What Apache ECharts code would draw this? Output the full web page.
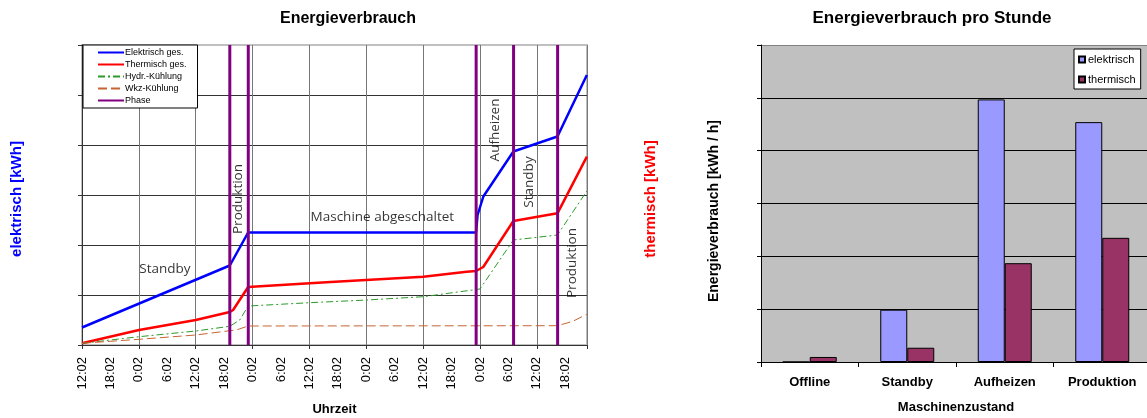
<!DOCTYPE html>
<html>
<head>
<meta charset="utf-8">
<script src="https://cdn.jsdelivr.net/npm/echarts@6/dist/echarts.min.js"></script>
<style>
  html, body { margin: 0; padding: 0; background: #fff; }
  #chart { width: 1147px; height: 418px; }
</style>
</head>
<body>
<div id="chart"></div>
<script>
// Zeitachse: Stunden seit Messbeginn (12:02 Uhr)
const startStunde = 12;
const startMinute = 2;
const zeitEnde = 106.6;

// Kumulierter Verbrauch elektrisch [kWh]
const elekZeit = [0, 31.2, 35.07, 83.18, 83.5, 84.72, 91.06, 100.36, 106.57];
const elekWert = [35, 159, 225, 225, 260, 297, 387, 417, 540];

// Kumulierter Verbrauch thermisch [kWh]
const thermZeit = [0, 12.04, 24.02, 31.2, 31.9, 35.07, 51.6, 72.05, 81.2, 83.2, 84.7, 91.06, 100.36, 106.57];
const thermWert = [17, 150, 250, 330, 350, 580, 627, 683, 733, 740, 780, 1240, 1317, 1883];

const hydrZeit = [0, 12.04, 24.02, 31.2, 33.3, 35.07, 48.1, 60.1, 72.05, 84.0, 91.06, 100.36, 106.57];
const hydrWert = [17, 83, 140, 187, 250, 390, 423, 450, 483, 560, 1050, 1100, 1540];

const wkzZeit = [0, 12.04, 24.02, 31.2, 32.6, 35.07, 100.36, 103.5, 106.57];
const wkzWert = [17, 57, 100, 143, 150, 190, 193, 235, 307];

// Zeitpunkte der Phasenwechsel
const phasenWechsel = [31.2, 35.1, 83.2, 91.1, 100.4];

// Beschriftung der Phasen (Zeit, Höhe auf der elektrischen Achse, Drehung)
const phasenText = ['Standby', 'Produktion', 'Maschine abgeschaltet', 'Aufheizen', 'Standby', 'Produktion'];
const phasenTextZeit = [17.5, 32.9, 63.4, 87.2, 94.4, 103.5];
const phasenTextWert = [152, 292, 256, 430, 326, 164];
const phasenTextDrehung = [0, 90, 0, 90, 90, 90];

// Energieverbrauch pro Stunde je Maschinenzustand [kWh / h]
const zustaende = ['Offline', 'Standby', 'Aufheizen', 'Produktion'];
const proStundeElek = [0, 9.9, 49.7, 45.4];
const proStundeTherm = [0.95, 2.7, 18.7, 23.5];

const pairs = (xs, ys) => xs.map((x, i) => [x, ys[i]]);
const phasenDaten = [];
phasenWechsel.forEach(t => { phasenDaten.push([t, 0], [t, 3000], [t, null]); });

const uhrzeit = v => {
  if (Math.abs(v / 6 - Math.round(v / 6)) > 1e-6) return '';
  const h = (startStunde + Math.round(v)) % 24;
  return h + ':' + String(startMinute).padStart(2, '0');
};

const FONT = 'Liberation Sans, Arial, sans-serif';
const chart = echarts.init(document.getElementById('chart'));

chart.setOption({
  backgroundColor: '#fff',
  animation: false,
  textStyle: { fontFamily: FONT },
  graphic: [
    { type: 'text', x: 348, y: 19, style: { text: 'Energieverbrauch', font: 'bold 16px ' + FONT, fill: '#000', align: 'center', verticalAlign: 'middle' } },
    { type: 'text', x: 932, y: 18, style: { text: 'Energieverbrauch pro Stunde', font: 'bold 17px ' + FONT, fill: '#000', align: 'center', verticalAlign: 'middle' } }
  ],
  legend: [
    {
      data: ['Elektrisch ges.', 'Thermisch ges.', 'Hydr.-Kühlung', 'Wkz-Kühlung', 'Phase'],
      orient: 'vertical', left: 83, top: 45,
      itemWidth: 26, itemHeight: 9, itemGap: 3,
      padding: [3, 11, 3, 14],
      itemStyle: { opacity: 0 },
      backgroundColor: '#fff', borderColor: '#000', borderWidth: 1, borderRadius: 0,
      textStyle: { fontSize: 9, color: '#000', fontFamily: FONT, padding: [0, 0, 0, -4] }
    },
    {
      data: ['elektrisch', 'thermisch'],
      orient: 'vertical', left: 1074, top: 49,
      icon: 'rect', itemWidth: 6, itemHeight: 6, itemGap: 9,
      padding: [5, 5, 4, 4],
      backgroundColor: '#fff', borderColor: '#000', borderWidth: 1, borderRadius: 0,
      textStyle: { fontSize: 11, color: '#000', fontFamily: FONT, padding: [0, 0, 0, -2] }
    }
  ],
  grid: [
    { left: 82, top: 45, width: 505, height: 300, outerBoundsMode: 'none', show: true, borderColor: '#c0c0c0', borderWidth: 2, backgroundColor: '#fff' },
    { left: 761, top: 45, width: 390, height: 317, outerBoundsMode: 'none', show: true, borderWidth: 0, backgroundColor: '#c0c0c0' }
  ],
  xAxis: [
    {
      type: 'value', gridIndex: 0, min: 0, max: zeitEnde, interval: 12,
      axisLine: { show: true, lineStyle: { color: '#333', width: 1 } },
      axisTick: { show: true, length: 4, lineStyle: { color: '#333' } },
      axisLabel: { show: false },
      splitLine: { show: true, lineStyle: { color: '#777', width: 1 } }
    },
    {
      type: 'value', gridIndex: 0, min: 0, max: zeitEnde, interval: 6, position: 'bottom',
      axisLine: { show: false }, axisTick: { show: false }, splitLine: { show: false },
      axisLabel: { rotate: 90, formatter: uhrzeit, fontSize: 13, color: '#000', margin: 12, fontFamily: FONT, showMaxLabel: false },
      name: 'Uhrzeit', nameLocation: 'middle', nameGap: 58,
      nameTextStyle: { fontWeight: 'bold', fontSize: 13, color: '#000', fontFamily: FONT }
    },
    {
      type: 'category', gridIndex: 1, data: zustaende,
      axisLine: { show: true, lineStyle: { color: '#000', width: 1 } },
      axisTick: { show: true, length: 5, alignWithLabel: false, lineStyle: { color: '#000' } },
      axisLabel: { fontWeight: 'bold', fontSize: 13, color: '#000', margin: 14, fontFamily: FONT },
      name: 'Maschinenzustand', nameLocation: 'middle', nameGap: 39,
      nameTextStyle: { fontWeight: 'bold', fontSize: 13, color: '#000', fontFamily: FONT }
    }
  ],
  yAxis: [
    {
      type: 'value', gridIndex: 0, min: 0, max: 600, interval: 100, position: 'left',
      axisLine: { show: true, lineStyle: { color: '#333', width: 1 } },
      axisTick: { show: true, length: 4, lineStyle: { color: '#333' } },
      axisLabel: { show: false },
      splitLine: { show: true, lineStyle: { color: ['#333', '#333', '#333', '#333', '#333', '#333', '#c0c0c0'], width: 1 } },
      name: 'elektrisch [kWh]', nameLocation: 'middle', nameRotate: 90, nameGap: 58,
      nameTextStyle: { fontWeight: 'bold', fontSize: 15, color: '#0000ff', fontFamily: FONT, padding: [0, 8, 0, 0] }
    },
    {
      type: 'value', gridIndex: 0, min: 0, max: 3000, interval: 500, position: 'right',
      axisLine: { show: true, lineStyle: { color: '#333', width: 1 } },
      axisTick: { show: true, length: 4, lineStyle: { color: '#333' } },
      axisLabel: { show: false },
      splitLine: { show: false },
      name: 'thermisch [kWh]', nameLocation: 'middle', nameRotate: 90, nameGap: 56,
      nameTextStyle: { fontWeight: 'bold', fontSize: 15, color: '#ff0000', fontFamily: FONT, padding: [0, 8, 0, 0] }
    },
    {
      type: 'value', gridIndex: 1, min: 0, max: 60, interval: 10,
      axisLine: { show: true, lineStyle: { color: '#000', width: 1 } },
      axisTick: { show: true, length: 4, lineStyle: { color: '#000' } },
      axisLabel: { show: false },
      splitLine: { show: true, lineStyle: { color: ['#000', '#000', '#000', '#000', '#000', '#000', '#808080'], width: 1 } },
      name: 'Energieverbrauch [kWh / h]', nameLocation: 'middle', nameRotate: 90, nameGap: 40,
      nameTextStyle: { fontWeight: 'bold', fontSize: 14, color: '#000', fontFamily: FONT, padding: [0, 15, 0, 0] }
    }
  ],
  series: [
    {
      name: 'Elektrisch ges.', type: 'line', xAxisIndex: 0, yAxisIndex: 0,
      data: pairs(elekZeit, elekWert), symbol: 'none', z: 3,
      lineStyle: { color: '#0000ff', width: 2.5 }, itemStyle: { color: '#0000ff' }
    },
    {
      name: 'Thermisch ges.', type: 'line', xAxisIndex: 0, yAxisIndex: 1,
      data: pairs(thermZeit, thermWert), symbol: 'none', z: 3,
      lineStyle: { color: '#ff0000', width: 2.5 }, itemStyle: { color: '#ff0000' }
    },
    {
      name: 'Hydr.-Kühlung', type: 'line', xAxisIndex: 0, yAxisIndex: 1,
      data: pairs(hydrZeit, hydrWert), symbol: 'none', z: 3,
      lineStyle: { color: '#2a9a2a', width: 1, type: [7, 3, 2, 3] }, itemStyle: { color: '#2a9a2a' }
    },
    {
      name: 'Wkz-Kühlung', type: 'line', xAxisIndex: 0, yAxisIndex: 1,
      data: pairs(wkzZeit, wkzWert), symbol: 'none', z: 3,
      lineStyle: { color: '#c86432', width: 1, type: [9, 4] }, itemStyle: { color: '#c86432' }
    },
    {
      name: 'Phase', type: 'line', xAxisIndex: 0, yAxisIndex: 1,
      data: phasenDaten, symbol: 'none', connectNulls: false, z: 4,
      lineStyle: { color: '#800080', width: 3 }, itemStyle: { color: '#800080' }
    },
    {
      name: 'Phasenbeschriftung', type: 'scatter', xAxisIndex: 0, yAxisIndex: 0,
      symbolSize: 0, silent: true, z: 5,
      data: phasenText.map((t, i) => ({
        name: t, value: [phasenTextZeit[i], phasenTextWert[i]],
        label: { rotate: phasenTextDrehung[i] }
      })),
      label: {
        show: true, position: 'inside', formatter: p => p.name,
        fontFamily: 'Open Sans, sans-serif', fontSize: 13.5, color: '#000'
      }
    },
    {
      name: 'elektrisch', type: 'bar', xAxisIndex: 2, yAxisIndex: 2,
      data: proStundeElek, barWidth: 27, barGap: '0%',
      itemStyle: { color: '#9999ff', borderColor: '#000', borderWidth: 1 }
    },
    {
      name: 'thermisch', type: 'bar', xAxisIndex: 2, yAxisIndex: 2,
      data: proStundeTherm, barWidth: 27, barGap: '0%',
      itemStyle: { color: '#993366', borderColor: '#000', borderWidth: 1 }
    }
  ]
});
</script>
</body>
</html>
